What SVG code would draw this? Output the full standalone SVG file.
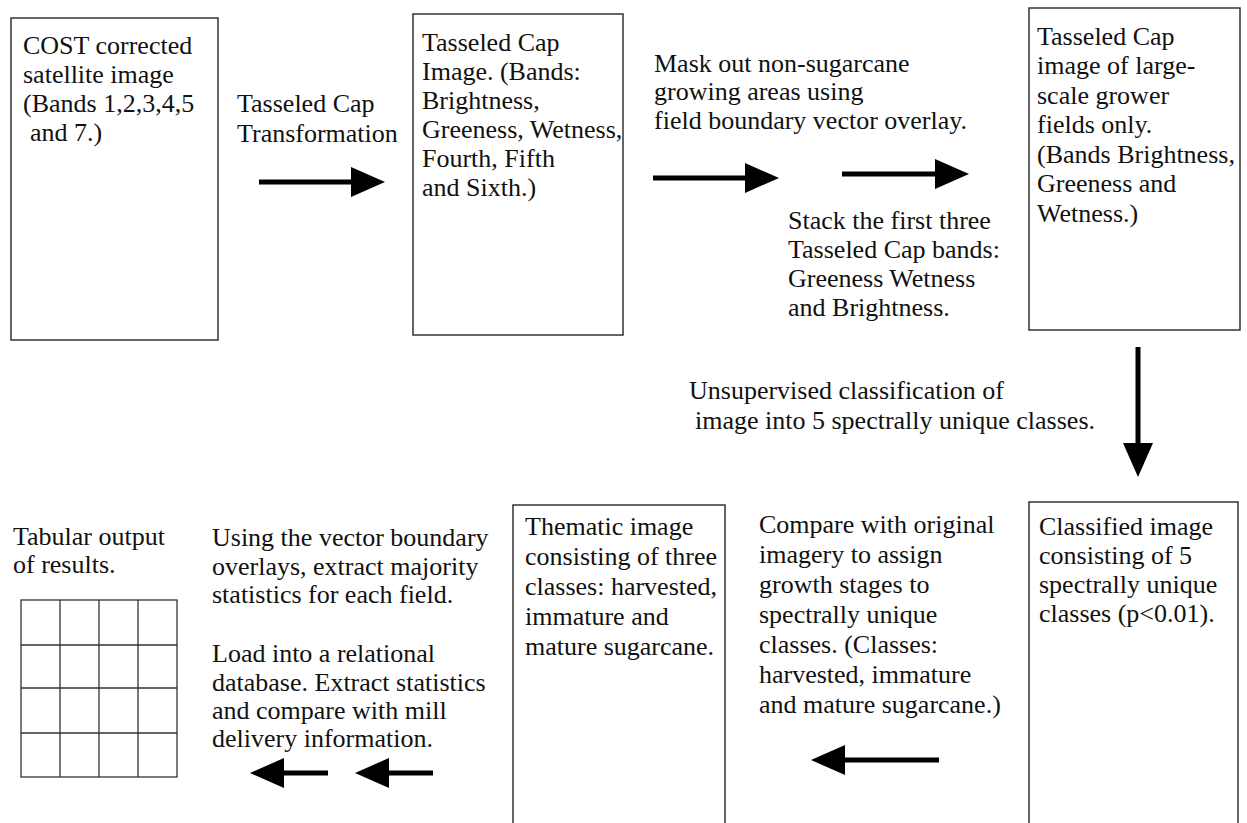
<svg xmlns="http://www.w3.org/2000/svg" width="1247" height="823" viewBox="0 0 1247 823">
<style>
.t{font-family:"Liberation Serif","Times New Roman",serif;font-size:26px;fill:#111}
.box{fill:none;stroke:#333;stroke-width:1.5}
.sh{stroke:#000;stroke-width:5;fill:none;marker-end:url(#ah)}
.grid{fill:none;stroke:#333;stroke-width:1.3}
</style>
<defs>
<marker id="ah" viewBox="0 0 34 30" markerWidth="34" markerHeight="30" refX="0" refY="15" markerUnits="userSpaceOnUse" orient="auto">
<path d="M0,0 L34,15 L0,30 Z" fill="#000"/>
</marker>
</defs>
<rect width="1247" height="823" fill="#fff"/>

<g id="node-cost">
<rect class="box" x="11" y="18" width="207" height="322"/>
<text class="t" x="23" y="54">COST corrected</text>
<text class="t" x="23" y="83">satellite image</text>
<text class="t" x="23" y="112">(Bands 1,2,3,4,5</text>
<text class="t" x="30" y="141">and 7.)</text>
</g>

<g id="node-tc-image">
<rect class="box" x="413" y="14" width="210" height="321"/>
<text class="t" x="422" y="51">Tasseled Cap</text>
<text class="t" x="422" y="80">Image. (Bands:</text>
<text class="t" x="422" y="109">Brightness,</text>
<text class="t" x="422" y="138">Greeness, Wetness,</text>
<text class="t" x="422" y="167">Fourth, Fifth</text>
<text class="t" x="422" y="196">and Sixth.)</text>
</g>

<g id="node-tc-large">
<rect class="box" x="1029" y="8" width="211" height="322"/>
<text class="t" x="1037" y="45">Tasseled Cap</text>
<text class="t" x="1037" y="74">image of large-</text>
<text class="t" x="1037" y="104">scale grower</text>
<text class="t" x="1037" y="133">fields only.</text>
<text class="t" x="1037" y="163">(Bands Brightness,</text>
<text class="t" x="1037" y="192">Greeness and</text>
<text class="t" x="1037" y="222">Wetness.)</text>
</g>

<g id="node-classified">
<path class="box" d="M1029,823 V502 H1238 V823"/>
<text class="t" x="1039" y="535">Classified image</text>
<text class="t" x="1039" y="564">consisting of 5</text>
<text class="t" x="1039" y="593">spectrally unique</text>
<text class="t" x="1039" y="622">classes (p&lt;0.01).</text>
</g>

<g id="node-thematic">
<path class="box" d="M513,823 V505 H725 V823"/>
<text class="t" x="525" y="535">Thematic image</text>
<text class="t" x="525" y="565">consisting of three</text>
<text class="t" x="525" y="595">classes: harvested,</text>
<text class="t" x="525" y="625">immature and</text>
<text class="t" x="525" y="655">mature sugarcane.</text>
</g>

<g id="node-table">
<text class="t" x="13" y="545">Tabular output</text>
<text class="t" x="13" y="573">of results.</text>
<rect class="grid" x="21" y="600" width="156" height="177"/>
<path class="grid" d="M60,600 V777 M99,600 V777 M138,600 V777 M21,645 H177 M21,688 H177 M21,733 H177"/>
</g>

<g id="labels">
<text class="t" x="237" y="112">Tasseled Cap</text>
<text class="t" x="237" y="142">Transformation</text>
<text class="t" x="654" y="72">Mask out non-sugarcane</text>
<text class="t" x="654" y="100">growing areas using</text>
<text class="t" x="654" y="129">field boundary vector overlay.</text>
<text class="t" x="788" y="229">Stack the first three</text>
<text class="t" x="788" y="258">Tasseled Cap bands:</text>
<text class="t" x="788" y="287">Greeness Wetness</text>
<text class="t" x="788" y="316">and Brightness.</text>
<text class="t" x="689" y="399">Unsupervised classification of</text>
<text class="t" x="695" y="429">image into 5 spectrally unique classes.</text>
<text class="t" x="759" y="533">Compare with original</text>
<text class="t" x="759" y="563">imagery to assign</text>
<text class="t" x="759" y="593">growth stages to</text>
<text class="t" x="759" y="623">spectrally unique</text>
<text class="t" x="759" y="653">classes. (Classes:</text>
<text class="t" x="759" y="683">harvested, immature</text>
<text class="t" x="759" y="713">and mature sugarcane.)</text>
<text class="t" x="212" y="546">Using the vector boundary</text>
<text class="t" x="212" y="575">overlays, extract majority</text>
<text class="t" x="212" y="603">statistics for each field.</text>
<text class="t" x="212" y="662">Load into a relational</text>
<text class="t" x="212" y="691">database. Extract statistics</text>
<text class="t" x="212" y="719">and compare with mill</text>
<text class="t" x="212" y="747">delivery information.</text>
</g>

<g id="connectors">
<path class="sh" d="M259,182 H351"/>
<path class="sh" d="M653,178 H745"/>
<path class="sh" d="M842,174 H935"/>
<path class="sh" d="M1138,347 V443"/>
<path class="sh" d="M939,760 H845"/>
<path class="sh" d="M433,773 H389"/>
<path class="sh" d="M328,773 H284"/>
</g>
</svg>
